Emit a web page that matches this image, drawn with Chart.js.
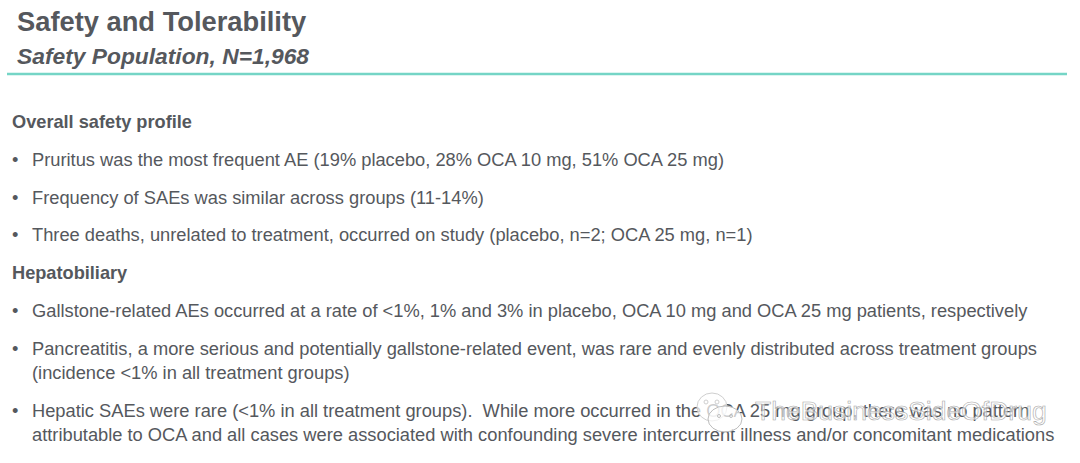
<!DOCTYPE html>
<html>
<head>
<meta charset="utf-8">
<script src="https://cdn.jsdelivr.net/npm/chart.js@4"></script>
<style>
  html, body { margin: 0; padding: 0; background: #fff; }
  body { width: 1080px; height: 463px; position: relative; overflow: hidden;
         font-family: "Liberation Sans", Arial, sans-serif; color: #55585d; }
  .line { position: absolute; white-space: pre; line-height: 1; }
  .title { font-size: 27.3px; font-weight: bold; }
  .subtitle { font-size: 22.8px; font-weight: bold; font-style: italic; }
  .head { font-size: 18.2px; font-weight: bold; }
  .body { font-size: 18.3px; }
  #rule { position: absolute; left: 7px; top: 69px; }
  #mark { position: absolute; left: 755px; top: 398px; font-size: 26.5px; white-space: nowrap;
          color: rgba(255,255,255,.6); -webkit-text-stroke: 0.6px #a8a8a8; line-height: 1; }
  #icon { position: absolute; left: 695px; top: 389px; }
</style>
</head>
<body>
<div id="rule"><canvas id="ruleChart" width="1060" height="10" style="width:1060px;height:10px"></canvas></div>
<div id="text"></div>
<svg id="icon" width="50" height="58" viewBox="0 0 50 58">
  <ellipse cx="17" cy="18" rx="15" ry="14" fill="rgba(255,255,255,.7)" stroke="#cfcfcf"/>
  <ellipse cx="30" cy="30" rx="17" ry="13" fill="rgba(255,255,255,.7)" stroke="#bdbdbd"/>
  <circle cx="11" cy="13" r="2" fill="none" stroke="#cfcfcf"/>
  <circle cx="22" cy="13" r="2" fill="none" stroke="#cfcfcf"/>
  <circle cx="24" cy="27" r="1.5" fill="none" stroke="#bdbdbd"/>
  <circle cx="36" cy="27" r="1.5" fill="none" stroke="#bdbdbd"/>
</svg>
<div id="mark">TheBusinessSideOfDrug</div>
<script>
// textos do slide: [classe, x, y, texto]
const slideLines = [
  ["title", 17, 7.5, "Safety and Tolerability"],
  ["subtitle", 17, 44.5, "Safety Population, N=1,968"],
  ["head", 12, 113, "Overall safety profile"],
  ["body", 12, 151, "•"],
  ["body", 32, 151, "Pruritus was the most frequent AE (19% placebo, 28% OCA 10 mg, 51% OCA 25 mg)"],
  ["body", 12, 189, "•"],
  ["body", 32, 189, "Frequency of SAEs was similar across groups (11-14%)"],
  ["body", 12, 226, "•"],
  ["body", 32, 226, "Three deaths, unrelated to treatment, occurred on study (placebo, n=2; OCA 25 mg, n=1)"],
  ["head", 12, 264, "Hepatobiliary"],
  ["body", 12, 302, "•"],
  ["body", 32, 302, "Gallstone-related AEs occurred at a rate of <1%, 1% and 3% in placebo, OCA 10 mg and OCA 25 mg patients, respectively"],
  ["body", 12, 340, "•"],
  ["body", 32, 340, "Pancreatitis, a more serious and potentially gallstone-related event, was rare and evenly distributed across treatment groups"],
  ["body", 32, 364, "(incidence <1% in all treatment groups)"],
  ["body", 12, 402, "•"],
  ["body", 32, 402, "Hepatic SAEs were rare (<1% in all treatment groups).  While more occurred in the OCA 25 mg group, there was no pattern"],
  ["body", 32, 426, "attributable to OCA and all cases were associated with confounding severe intercurrent illness and/or concomitant medications"],
];

const textBox = document.getElementById("text");
slideLines.forEach(([cls, x, y, txt]) => {
  const el = document.createElement("div");
  el.className = "line " + cls;
  el.style.left = x + "px";
  el.style.top = y + "px";
  el.textContent = txt;
  textBox.appendChild(el);
});

// linha verde abaixo do titulo
const ruleEnds = ["start", "end"];
const ruleValues = [1, 1];

new Chart(document.getElementById("ruleChart"), {
  type: "line",
  data: {
    labels: ruleEnds,
    datasets: [{ data: ruleValues, borderColor: "#75d5c6", borderWidth: 2.5, pointRadius: 0 }],
  },
  options: {
    responsive: false,
    animation: false,
    layout: { padding: 0 },
    plugins: { legend: { display: false }, tooltip: { enabled: false } },
    scales: {
      x: { display: false, offset: false },
      y: { display: false, min: 0, max: 2 },
    },
  },
});
</script>
</body>
</html>
